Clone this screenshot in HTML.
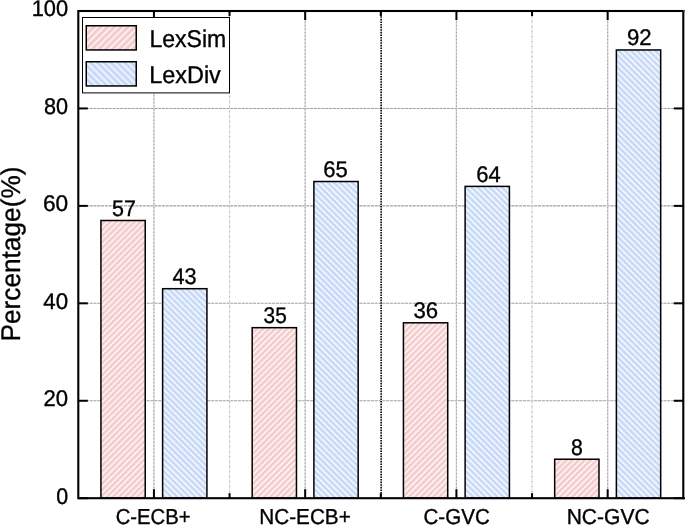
<!DOCTYPE html>
<html><head><meta charset="utf-8"><style>
html,body{margin:0;padding:0;background:#fff;width:685px;height:525px;overflow:hidden;}
svg{display:block;will-change:transform;}
text{font-family:"Liberation Sans", sans-serif;fill:#000;stroke:#000;stroke-width:0.35px;text-rendering:geometricPrecision;}
</style></head><body>
<svg width="685" height="525" viewBox="0 0 685 525">
<defs>
<pattern id="hp" patternUnits="userSpaceOnUse" width="4.271" height="4.271" patternTransform="rotate(45)">
<rect width="4.271" height="4.271" fill="#f4cccc"/><rect x="1.42" y="0" width="1.3" height="4.271" fill="#fff"/>
</pattern>
<pattern id="hb" patternUnits="userSpaceOnUse" width="4.271" height="4.271" patternTransform="rotate(-45)">
<rect width="4.271" height="4.271" fill="#c9daf8"/><rect x="1.75" y="0" width="1.3" height="4.271" fill="#fff"/>
</pattern>
<pattern id="lp" patternUnits="userSpaceOnUse" width="4.8" height="4.8" patternTransform="rotate(45)">
<rect width="4.8" height="4.8" fill="#f4cccc"/><rect x="0.85" y="0" width="1.3" height="4.8" fill="#fff"/>
</pattern>
<pattern id="lb" patternUnits="userSpaceOnUse" width="4.8" height="4.8" patternTransform="rotate(-45)">
<rect width="4.8" height="4.8" fill="#c9daf8"/><rect x="2.4" y="0" width="1.3" height="4.8" fill="#fff"/>
</pattern>
</defs>
<rect width="685" height="525" fill="#fff"/>

<line x1="78.3" y1="400.76" x2="683.3" y2="400.76" stroke="#9e9e9e" stroke-width="1.1" stroke-dasharray="3 0.8"/>
<line x1="78.3" y1="303.32" x2="683.3" y2="303.32" stroke="#9e9e9e" stroke-width="1.1" stroke-dasharray="3 0.8"/>
<line x1="78.3" y1="205.88" x2="683.3" y2="205.88" stroke="#9e9e9e" stroke-width="1.1" stroke-dasharray="3 0.8"/>
<line x1="78.3" y1="108.44" x2="683.3" y2="108.44" stroke="#9e9e9e" stroke-width="1.1" stroke-dasharray="3 0.8"/>
<line x1="153.93" y1="11.0" x2="153.93" y2="498.2" stroke="#d2d2d2" stroke-width="1.2"/>
<line x1="153.93" y1="11.0" x2="153.93" y2="498.2" stroke="#a4a4a4" stroke-width="1.2" stroke-dasharray="1.2 2.3"/>
<line x1="305.18" y1="11.0" x2="305.18" y2="498.2" stroke="#d2d2d2" stroke-width="1.2"/>
<line x1="305.18" y1="11.0" x2="305.18" y2="498.2" stroke="#a4a4a4" stroke-width="1.2" stroke-dasharray="1.2 2.3"/>
<line x1="456.43" y1="11.0" x2="456.43" y2="498.2" stroke="#d2d2d2" stroke-width="1.2"/>
<line x1="456.43" y1="11.0" x2="456.43" y2="498.2" stroke="#a4a4a4" stroke-width="1.2" stroke-dasharray="1.2 2.3"/>
<line x1="607.67" y1="11.0" x2="607.67" y2="498.2" stroke="#d2d2d2" stroke-width="1.2"/>
<line x1="607.67" y1="11.0" x2="607.67" y2="498.2" stroke="#a4a4a4" stroke-width="1.2" stroke-dasharray="1.2 2.3"/>
<line x1="229.55" y1="11.0" x2="229.55" y2="498.2" stroke="#e4e4e4" stroke-width="1.1"/>
<line x1="229.55" y1="11.0" x2="229.55" y2="498.2" stroke="#b4b4b4" stroke-width="1.1" stroke-dasharray="1.2 3.8"/>
<line x1="532.05" y1="11.0" x2="532.05" y2="498.2" stroke="#e4e4e4" stroke-width="1.1"/>
<line x1="532.05" y1="11.0" x2="532.05" y2="498.2" stroke="#b4b4b4" stroke-width="1.1" stroke-dasharray="1.2 3.8"/>
<line x1="381.15" y1="11.0" x2="381.15" y2="498.2" stroke="#111" stroke-width="1.7" stroke-dasharray="1.6 1.0"/>
<rect x="100.93" y="220.50" width="44.30" height="277.70" fill="url(#hp)" stroke="#000" stroke-width="1.5"/>
<text x="0" y="0" font-size="22.646" text-anchor="middle" transform="translate(124.04 215.9) scale(0.9493 1)">57</text>
<rect x="162.62" y="288.70" width="44.30" height="209.50" fill="url(#hb)" stroke="#000" stroke-width="1.5"/>
<text x="0" y="0" font-size="22.646" text-anchor="middle" transform="translate(184.57 284.1) scale(0.9577 1)">43</text>
<rect x="252.18" y="327.68" width="44.30" height="170.52" fill="url(#hp)" stroke="#000" stroke-width="1.5"/>
<text x="0" y="0" font-size="22.646" text-anchor="middle" transform="translate(275.16 323.08) scale(0.9201 1)">35</text>
<rect x="313.88" y="181.52" width="44.30" height="316.68" fill="url(#hb)" stroke="#000" stroke-width="1.5"/>
<text x="0" y="0" font-size="22.646" text-anchor="middle" transform="translate(335.56 176.92) scale(0.9756 1)">65</text>
<rect x="403.43" y="322.81" width="44.30" height="175.39" fill="url(#hp)" stroke="#000" stroke-width="1.5"/>
<text x="0" y="0" font-size="22.646" text-anchor="middle" transform="translate(425.86 318.21) scale(0.9786 1)">36</text>
<rect x="465.12" y="186.39" width="44.30" height="311.81" fill="url(#hb)" stroke="#000" stroke-width="1.5"/>
<text x="0" y="0" font-size="22.646" text-anchor="middle" transform="translate(488.49 181.79) scale(0.9705 1)">64</text>
<rect x="554.67" y="459.22" width="44.30" height="38.98" fill="url(#hp)" stroke="#000" stroke-width="1.5"/>
<text x="0" y="0" font-size="22.646" text-anchor="middle" transform="translate(576.96 454.62) scale(0.937 1)">8</text>
<rect x="616.38" y="49.98" width="44.30" height="448.22" fill="url(#hb)" stroke="#000" stroke-width="1.5"/>
<text x="0" y="0" font-size="22.646" text-anchor="middle" transform="translate(639.25 45.38) scale(0.9826 1)">92</text>
<line x1="78.3" y1="498.20" x2="87.8" y2="498.20" stroke="#000" stroke-width="2"/>
<line x1="683.3" y1="498.20" x2="673.8" y2="498.20" stroke="#000" stroke-width="2"/>
<text x="0" y="0" font-size="22.646" text-anchor="end" transform="translate(68.1 503.55) scale(0.9467 1)">0</text>
<line x1="78.3" y1="400.76" x2="87.8" y2="400.76" stroke="#000" stroke-width="2"/>
<line x1="683.3" y1="400.76" x2="673.8" y2="400.76" stroke="#000" stroke-width="2"/>
<text x="0" y="0" font-size="22.646" text-anchor="end" transform="translate(68.1 406.11) scale(0.9778 1)">20</text>
<line x1="78.3" y1="303.32" x2="87.8" y2="303.32" stroke="#000" stroke-width="2"/>
<line x1="683.3" y1="303.32" x2="673.8" y2="303.32" stroke="#000" stroke-width="2"/>
<text x="0" y="0" font-size="22.646" text-anchor="end" transform="translate(68.1 308.67) scale(0.9842 1)">40</text>
<line x1="78.3" y1="205.88" x2="87.8" y2="205.88" stroke="#000" stroke-width="2"/>
<line x1="683.3" y1="205.88" x2="673.8" y2="205.88" stroke="#000" stroke-width="2"/>
<text x="0" y="0" font-size="22.646" text-anchor="end" transform="translate(68.1 211.23) scale(1.002 1)">60</text>
<line x1="78.3" y1="108.44" x2="87.8" y2="108.44" stroke="#000" stroke-width="2"/>
<line x1="683.3" y1="108.44" x2="673.8" y2="108.44" stroke="#000" stroke-width="2"/>
<text x="0" y="0" font-size="22.646" text-anchor="end" transform="translate(68.1 113.79) scale(0.9563 1)">80</text>
<line x1="78.3" y1="11.00" x2="87.8" y2="11.00" stroke="#000" stroke-width="2"/>
<line x1="683.3" y1="11.00" x2="673.8" y2="11.00" stroke="#000" stroke-width="2"/>
<text x="0" y="0" font-size="22.646" text-anchor="end" transform="translate(68.1 16.35) scale(0.965 1)">100</text>
<line x1="153.93" y1="498.2" x2="153.93" y2="489.2" stroke="#000" stroke-width="2"/>
<line x1="153.93" y1="11.0" x2="153.93" y2="20.0" stroke="#000" stroke-width="2"/>
<text x="0" y="0" font-size="21.68" text-anchor="middle" transform="translate(153.13 523.76) scale(0.936 1)">C-ECB+</text>
<line x1="305.18" y1="498.2" x2="305.18" y2="489.2" stroke="#000" stroke-width="2"/>
<line x1="305.18" y1="11.0" x2="305.18" y2="20.0" stroke="#000" stroke-width="2"/>
<text x="0" y="0" font-size="21.68" text-anchor="middle" transform="translate(305.01 523.77) scale(0.9567 1)">NC-ECB+</text>
<line x1="456.43" y1="498.2" x2="456.43" y2="489.2" stroke="#000" stroke-width="2"/>
<line x1="456.43" y1="11.0" x2="456.43" y2="20.0" stroke="#000" stroke-width="2"/>
<text x="0" y="0" font-size="21.68" text-anchor="middle" transform="translate(456.65 523.75) scale(0.9497 1)">C-GVC</text>
<line x1="607.67" y1="498.2" x2="607.67" y2="489.2" stroke="#000" stroke-width="2"/>
<line x1="607.67" y1="11.0" x2="607.67" y2="20.0" stroke="#000" stroke-width="2"/>
<text x="0" y="0" font-size="21.68" text-anchor="middle" transform="translate(608.17 523.75) scale(0.9711 1)">NC-GVC</text>
<line x1="229.55" y1="498.2" x2="229.55" y2="493.2" stroke="#000" stroke-width="2"/>
<line x1="229.55" y1="11.0" x2="229.55" y2="16.0" stroke="#000" stroke-width="2"/>
<line x1="380.80" y1="498.2" x2="380.80" y2="493.2" stroke="#000" stroke-width="2"/>
<line x1="380.80" y1="11.0" x2="380.80" y2="16.0" stroke="#000" stroke-width="2"/>
<line x1="532.05" y1="498.2" x2="532.05" y2="493.2" stroke="#000" stroke-width="2"/>
<line x1="532.05" y1="11.0" x2="532.05" y2="16.0" stroke="#000" stroke-width="2"/>
<rect x="78.3" y="11.0" width="605.0" height="487.2" fill="none" stroke="#000" stroke-width="2.1"/>
<line x1="683.3" y1="498.2" x2="685.5" y2="498.2" stroke="#000" stroke-width="2.1"/>
<line x1="683.3" y1="11.0" x2="685" y2="11.0" stroke="#555" stroke-width="2.1"/>
<rect x="82.5" y="17.5" width="147" height="75.4" fill="#fff" stroke="#000" stroke-width="1"/>
<rect x="86.25" y="25.75" width="50" height="24.2" fill="url(#lp)" stroke="#000" stroke-width="1.5"/>
<rect x="86.25" y="61.75" width="50" height="24.2" fill="url(#lb)" stroke="#000" stroke-width="1.5"/>
<text x="0" y="0" font-size="24.2" text-anchor="start" transform="translate(149.42 46.7) scale(0.952 1)">LexSim</text>
<text x="0" y="0" font-size="24.2" text-anchor="start" transform="translate(149.29 83.0) scale(0.967 1)">LexDiv</text>
<text x="0" y="0" font-size="27" text-anchor="middle" transform="translate(19.7 254.05) rotate(-90) scale(0.972 1)">Percentage(%)</text>
</svg></body></html>
